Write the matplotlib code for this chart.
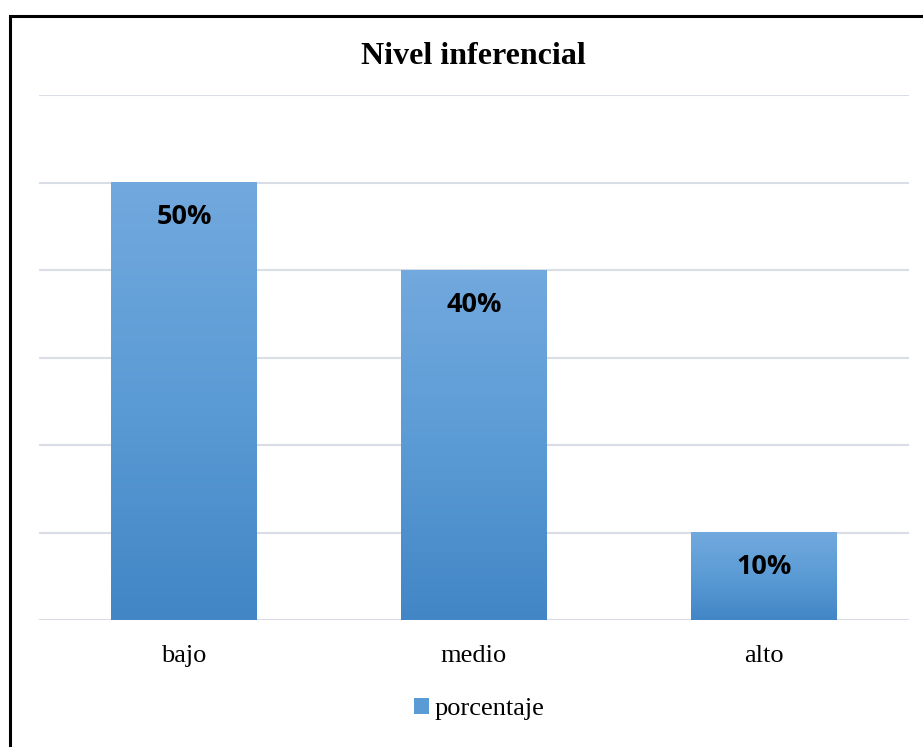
import numpy as np
import matplotlib
matplotlib.use("Agg")
import matplotlib.pyplot as plt
from matplotlib.colors import LinearSegmentedColormap
from matplotlib.patches import Rectangle

# datos
categorias = ["bajo", "medio", "alto"]
porcentaje = [50, 40, 10]
etiquetas = ["50%", "40%", "10%"]
titulo = "Nivel inferencial"
serie = "porcentaje"

fig = plt.figure(figsize=(9.23, 7.47), dpi=100)
ax = fig.add_axes([39/923, 1-620/747, 870/923, 525/747])

# degradado vertical de las barras
cmap = LinearSegmentedColormap.from_list("azul", ["#4286c6", "#5b9bd5", "#72a9de"])
grad = np.linspace(0, 1, 256).reshape(-1, 1)
ancho = 0.503
x = np.arange(len(categorias))
barras = ax.bar(x, porcentaje, width=ancho, color="none", zorder=2)
for b in barras:
    x0, y0 = b.get_x(), b.get_y()
    ax.imshow(grad, cmap=cmap, origin="lower", aspect="auto",
              extent=(x0, x0 + b.get_width(), y0, y0 + b.get_height()), zorder=2)

for xi, v, t in zip(x, porcentaje, etiquetas):
    ax.annotate(t, (xi, v), xytext=(0, -25), textcoords="offset points",
                ha="center", va="center", fontsize=19.5, fontweight="bold",
                family="Open Sans", color="black", zorder=3)

ax.set_xlim(-0.5, 2.5)
ax.set_ylim(0, 60)
ax.set_yticks(np.arange(0, 61, 10))
ax.yaxis.grid(True, color="#d9dde5", linewidth=1.5, zorder=0)
ax.set_axisbelow(True)
ax.tick_params(axis="y", left=False, labelleft=False)
ax.tick_params(axis="x", length=0, pad=18)
ax.set_xticks(x)
ax.set_xticklabels(categorias, family="Liberation Serif", fontsize=19)
for s in ax.spines.values():
    s.set_visible(False)

# leyenda
h = Rectangle((0, 0), 1, 1, facecolor="#5b9bd5")
fig.legend([h], [serie], loc="center", bbox_to_anchor=(479/923, 1-709/747),
           frameon=False, prop={"family": "Liberation Serif", "size": 19},
           handlelength=0.6, handleheight=0.6, handletextpad=0.2)

fig.text(473/923, 1-56/747, titulo, ha="center", va="center",
         family="Liberation Serif", fontweight="bold", fontsize=23)

# marco
fig.patches.append(Rectangle((10/923, -0.1), 1.2, 1.1 - 16/747, transform=fig.transFigure,
                             fill=False, edgecolor="black", linewidth=2.2))

fig.savefig("out.png", dpi=100)
plt.close()
